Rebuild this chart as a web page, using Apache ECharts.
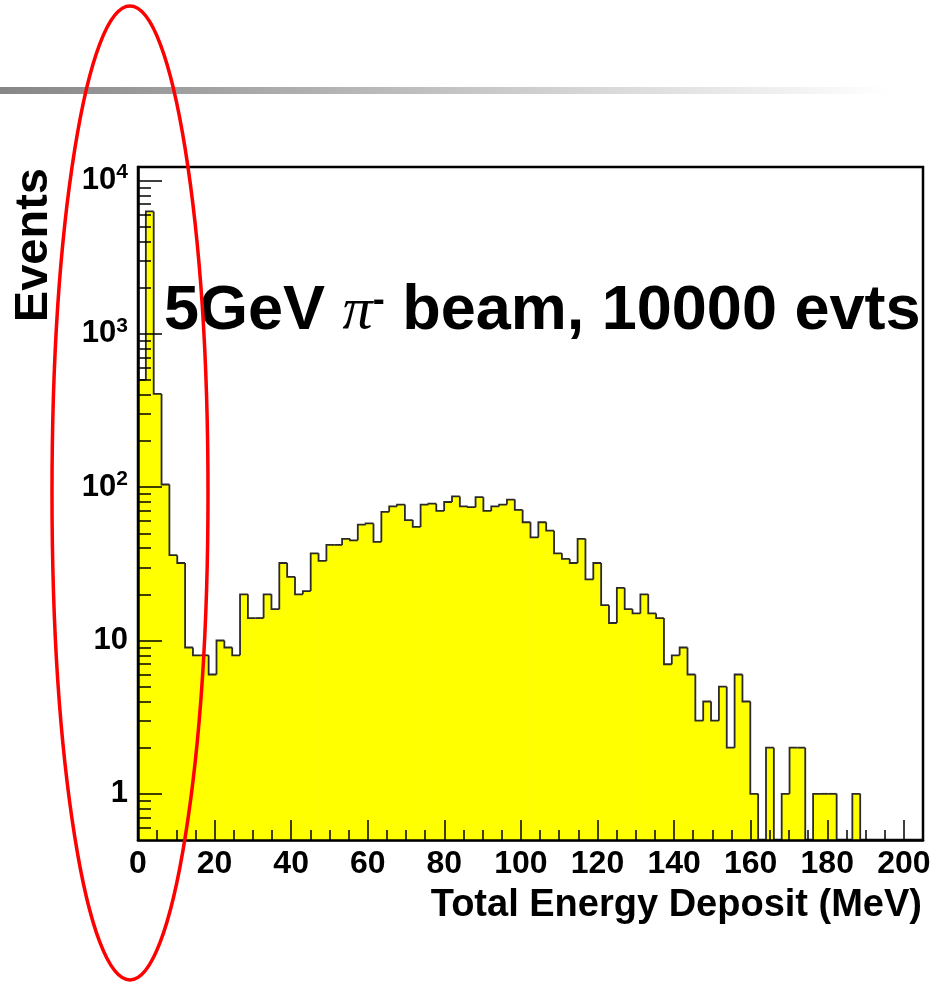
<!DOCTYPE html>
<html>
<head>
<meta charset="utf-8">
<script src="https://cdn.jsdelivr.net/npm/echarts@6/dist/echarts.min.js"></script>
<style>
html,body{margin:0;padding:0;background:#ffffff;}
#chart{width:949px;height:984px;}
</style>
</head>
<body>
<div id="chart"></div>
<script>
// ---- data ----
const binWidth = 2.05; // MeV per bin, 100 bins from 0 to 205
const counts = [
  500, 6280, 405, 104, 36, 32, 9, 8, 8, 6,
  10, 9, 8, 20, 14, 14, 20, 16, 32, 26,
  20, 21, 37, 33, 42, 42, 46, 45, 57, 58,
  44, 69, 75, 77, 61, 55, 77, 78, 70, 80,
  87, 75, 74, 86, 70, 75, 77, 83, 71, 59,
  47, 59, 52, 37, 34, 32, 46, 25, 32, 17,
  13, 22, 16, 15, 20, 15, 14, 7, 8, 9,
  6, 3, 4, 3, 5, 2, 6, 4, 1, 0,
  2, 0, 1, 2, 2, 0, 1, 1, 1, 0,
  0, 1, 0, 0, 0, 0, 0, 0, 0, 0
];
const xRange = [0, 205];
const yRange = [0.5, 12230];
const xMajorTicks = [0, 20, 40, 60, 80, 100, 120, 140, 160, 180, 200];
const xMinorTicks = [5, 10, 15, 25, 30, 35, 45, 50, 55, 65, 70, 75, 85, 90, 95, 105, 110, 115, 125, 130, 135, 145, 150, 155, 165, 170, 175, 185, 190, 195];
const yMajorTicks = [1, 10, 100, 1000, 10000];
const yMinorTicks = [0.6, 0.7, 0.8, 0.9, 2, 3, 4, 5, 6, 7, 8, 9, 20, 30, 40, 50, 60, 70, 80, 90,
  200, 300, 400, 500, 600, 700, 800, 900, 2000, 3000, 4000, 5000, 6000, 7000, 8000, 9000];
const xTitle = 'Total Energy Deposit (MeV)';
const yTitle = 'Events';
const plotTitle = ['5GeV ', 'π', '-', ' beam, 10000 evts'];

// ---- build ----
const histData = counts.map((c, i) => [i * binWidth, (i + 1) * binWidth, c]);
const FONT = "'Liberation Sans', Arial, Helvetica, sans-serif";

function renderFill(params, api) {
  const c = api.value(2);
  if (!(c > 0)) return null;
  const a = api.coord([api.value(0), c]);
  const b = api.coord([api.value(1), yRange[0]]);
  return {
    type: 'rect',
    shape: { x: a[0] - 0.3, y: a[1], width: b[0] - a[0] + 0.6, height: b[1] - a[1] },
    style: { fill: '#ffff00' }
  };
}
function renderOutline(params, api) {
  const i = params.dataIndex;
  const c = api.value(2);
  const prev = i > 0 ? counts[i - 1] : 0;
  const yv = c > 0 ? c : yRange[0];
  const yp = prev > 0 ? prev : yRange[0];
  const r = api.coord([api.value(0), yp]);
  const p = api.coord([api.value(0), yv]);
  const q = api.coord([api.value(1), yv]);
  return {
    type: 'polyline',
    shape: { points: [r, p, q] },
    style: { stroke: '#2a2a2a', lineWidth: 1.8, fill: null }
  };
}

const chart = echarts.init(document.getElementById('chart'), null, { renderer: 'canvas' });
const option = {
  animation: false,
  backgroundColor: '#ffffff',
  title: {
    text: '{a|' + plotTitle[0] + '}{p|' + plotTitle[1] + '}{m|' + plotTitle[2] + '}{a|' + plotTitle[3] + '}',
    left: 164,
    top: 281,
    padding: 0,
    textStyle: {
      rich: {
        a: { fontSize: 63, fontWeight: 'bold', fontFamily: FONT, color: '#000', lineHeight: 62 },
        p: { fontSize: 60, fontStyle: 'italic', fontWeight: 'normal', fontFamily: "'Liberation Serif', 'DejaVu Serif', serif", color: '#000', lineHeight: 62 },
        m: { fontSize: 36, fontWeight: 'bold', fontFamily: FONT, color: '#000', padding: [0, 0, 22, 0] }
      }
    }
  },
  grid: {
    left: 138, right: 26, top: 167, bottom: 144,
    show: true, borderColor: '#000', borderWidth: 2.5, backgroundColor: 'transparent',
    containLabel: false, outerBoundsMode: 'none'
  },
  xAxis: [
    {
      type: 'value', min: xRange[0], max: xRange[1], position: 'bottom', z: 10,
      name: xTitle, nameLocation: 'end', nameGap: -1, nameMoveOverlap: false,
      nameTextStyle: { fontSize: 38, fontWeight: 'bold', fontFamily: FONT, color: '#000', align: 'right', verticalAlign: 'top', lineHeight: 42, padding: [45, 0, 0, 0] },
      axisLine: { show: true, lineStyle: { color: '#000', width: 2.5 } },
      axisTick: { show: true, inside: true, length: 20, customValues: xMajorTicks, lineStyle: { color: '#000', width: 1.5 } },
      axisLabel: { show: true, customValues: xMajorTicks, margin: 8, fontSize: 32, fontWeight: 'bold', fontFamily: FONT, color: '#000' },
      splitLine: { show: false }
    },
    {
      type: 'value', min: xRange[0], max: xRange[1], position: 'bottom', z: 10,
      axisLine: { show: false },
      axisTick: { show: true, inside: true, length: 10, customValues: xMinorTicks, lineStyle: { color: '#000', width: 1.5 } },
      axisLabel: { show: false },
      splitLine: { show: false }
    }
  ],
  yAxis: [
    {
      type: 'log', logBase: 10, min: yRange[0], max: yRange[1], position: 'left', z: 10,
      name: yTitle, nameLocation: 'end', nameGap: -1, nameRotate: 90, nameMoveOverlap: false,
      nameTextStyle: { fontSize: 47, fontWeight: 'bold', fontFamily: FONT, color: '#000', align: 'right', verticalAlign: 'bottom', lineHeight: 47, padding: [0, 0, 80, 0] },
      axisLine: { show: true, lineStyle: { color: '#000', width: 2.5 } },
      axisTick: { show: true, inside: true, length: 24, customValues: yMajorTicks, lineStyle: { color: '#000', width: 1.5 } },
      axisLabel: {
        show: true, customValues: yMajorTicks, margin: 10,
        formatter: function (v) {
          const e = Math.round(Math.log10(v));
          if (e <= 1) return '{b|' + Math.round(v) + '}';
          return '{b|10}{s|' + e + '}';
        },
        rich: {
          b: { fontSize: 31, fontWeight: 'bold', fontFamily: FONT, color: '#000', lineHeight: 31 },
          s: { fontSize: 21, fontWeight: 'bold', fontFamily: FONT, color: '#000', padding: [0, 0, 16, 0] }
        }
      },
      splitLine: { show: false }
    },
    {
      type: 'log', logBase: 10, min: yRange[0], max: yRange[1], position: 'left', z: 10,
      axisLine: { show: false },
      axisTick: { show: true, inside: true, length: 13, customValues: yMinorTicks, lineStyle: { color: '#000', width: 1.5 } },
      axisLabel: { show: false },
      splitLine: { show: false }
    }
  ],
  series: [
    {
      type: 'custom', name: 'fill', xAxisIndex: 0, yAxisIndex: 0, z: 2, clip: true,
      renderItem: renderFill, encode: { x: [0, 1], y: 2 }, data: histData, silent: true
    },
    {
      type: 'custom', name: 'outline', xAxisIndex: 0, yAxisIndex: 0, z: 3, clip: true,
      renderItem: renderOutline, encode: { x: [0, 1], y: 2 }, data: histData, silent: true
    }
  ],
  graphic: [
    {
      type: 'rect', z: 50,
      shape: { x: 0, y: 87, width: 890, height: 7 },
      style: {
        fill: new echarts.graphic.LinearGradient(0, 0, 1, 0, [
          { offset: 0, color: '#868686' },
          { offset: 1, color: '#ffffff' }
        ])
      }
    },
    {
      type: 'ellipse', z: 100,
      shape: { cx: 130, cy: 493, rx: 78, ry: 487 },
      style: { fill: 'transparent', stroke: '#ff0000', lineWidth: 3.5 }
    }
  ]
};
chart.setOption(option);
</script>
</body>
</html>
